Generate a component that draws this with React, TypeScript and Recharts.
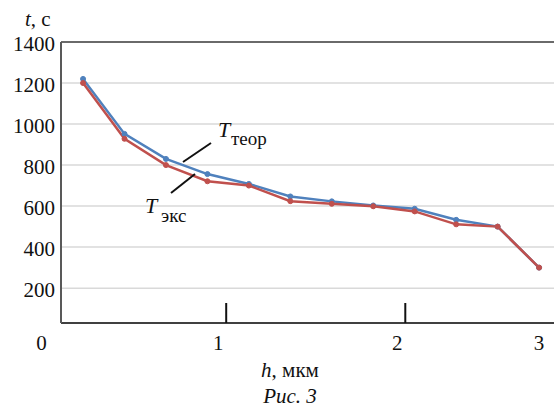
import { LineChart, Line, XAxis, YAxis, CartesianGrid, ReferenceLine } from 'recharts'

const H_VALUES = [0.25, 0.5, 0.75, 1.0, 1.25, 1.5, 1.75, 2.0, 2.25, 2.5, 2.75, 3.0]
const T_TEOR = [1220, 952, 830, 756, 708, 647, 623, 603, 587, 533, 500, 300]
const T_EKS = [1200, 928, 800, 721, 700, 624, 611, 599, 574, 511, 500, 300]

const Y_TICKS = [200, 400, 600, 800, 1000, 1200, 1400]
const X_TICKS = [0, 1.065, 2.145, 3]
const X_LABELS = ['0', '1', '2', '3']
const X_MARKED = [false, true, true, false]

const FONT = { fontFamily: "'Liberation Serif', 'Times New Roman', serif" }
const BLUE = '#4f81bd'
const RED = '#c0504d'

const data = H_VALUES.map((h, i) => ({ h, teor: T_TEOR[i], eks: T_EKS[i] }))

function XTick(props: any) {
  const { x, y, index } = props
  return (
    <g>
      {X_MARKED[index] && (
        <line x1={x + 8} x2={x + 8} y1={y - 20} y2={y} stroke="#111" strokeWidth={2} />
      )}
      <text x={x} y={y + 27} textAnchor="middle" fontSize={21} fill="#111" style={FONT}>
        {X_LABELS[index]}
      </text>
    </g>
  )
}

function YTick(props: any) {
  const { x, y, payload } = props
  return (
    <text x={x} y={y + 9} textAnchor="end" fontSize={21} fill="#111" style={FONT}>
      {payload.value}
    </text>
  )
}

export default function App() {
  return (
    <div className="fig" style={{ position: 'absolute', left: 0, top: 0, width: 554, height: 409, background: '#fff', ...FONT }}>
      <style>{`.fig text, .fig tspan { font-family: 'Liberation Serif', 'Times New Roman', serif !important; }`}</style>
      <LineChart width={554} height={409} data={data} margin={{ top: 42, right: 0, left: 0, bottom: 0 }}>
        <CartesianGrid vertical={false} stroke="#d9d9d9" strokeWidth={1.5} />
        <XAxis
          dataKey="h"
          type="number"
          domain={[0.117, 3.09]}
          allowDataOverflow
          ticks={X_TICKS}
          interval={0}
          height={86}
          tickSize={0}
          tickMargin={0}
          tickLine={false}
          axisLine={{ stroke: '#404040', strokeWidth: 2 }}
          tick={<XTick />}
        />
        <YAxis
          type="number"
          domain={[30, 1400]}
          allowDataOverflow
          ticks={Y_TICKS}
          interval={0}
          width={61}
          tickSize={0}
          tickMargin={6}
          tickLine={false}
          axisLine={{ stroke: '#595959', strokeWidth: 2 }}
          tick={<YTick />}
        />
        <ReferenceLine y={1400} stroke="#6a6a6a" strokeWidth={2} />
        <Line
          dataKey="teor"
          stroke={BLUE}
          strokeWidth={2.5}
          dot={{ r: 2.5, fill: BLUE, stroke: BLUE, strokeWidth: 1 }}
          isAnimationActive={false}
        />
        <Line
          dataKey="eks"
          stroke={RED}
          strokeWidth={2.5}
          dot={{ r: 2.5, fill: RED, stroke: RED, strokeWidth: 1 }}
          isAnimationActive={false}
        />
      </LineChart>

      {/* annotations and captions */}
      <svg
        width={554}
        height={409}
        style={{ position: 'absolute', left: 0, top: 0, pointerEvents: 'none' }}
      >
        <text x={25} y={26} fontSize={21} fill="#111">
          <tspan fontStyle="italic">t</tspan>, с
        </text>

        <line x1={183} y1={162} x2={211} y2={143} stroke="#111" strokeWidth={2} />
        <text x={218} y={137} fontSize={22} fontStyle="italic" fill="#111">T</text>
        <text x={231} y={145} fontSize={19} fill="#111">теор</text>

        <line x1={171} y1={193} x2={195} y2={174} stroke="#111" strokeWidth={2} />
        <text x={145} y={213} fontSize={22} fontStyle="italic" fill="#111">T</text>
        <text x={161} y={222} fontSize={19} fill="#111">экс</text>

        <text x={290} y={377} fontSize={21} textAnchor="middle" fill="#111">
          <tspan fontStyle="italic">h</tspan>, мкм
        </text>
        <text x={290} y={403} fontSize={21} textAnchor="middle" fontStyle="italic" fill="#111">
          Рис. 3
        </text>
      </svg>
    </div>
  )
}
